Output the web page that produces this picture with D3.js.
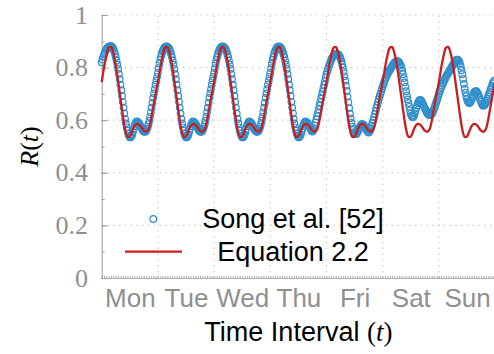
<!DOCTYPE html>
<html>
<head>
<meta charset="utf-8">
<script src="https://cdn.jsdelivr.net/npm/d3@7"></script>
<style>
  body { margin: 0; background: #fff; }
  svg { display: block; }
</style>
</head>
<body>
<div id="chart"></div>
<script>
// day labels, centred on each day
const days = ["Mon", "Tue", "Wed", "Thu", "Fri", "Sat", "Sun"];
const yTicks = [0, 0.2, 0.4, 0.6, 0.8, 1];

// Song et al. [52], one sample every 20 minutes (3 per hour, one row per day)
const songMon = [
  0.82, 0.831, 0.841, 0.85, 0.857, 0.864, 0.87, 0.874, 0.877, 0.88, 0.881, 0.882,
  0.882, 0.88, 0.876, 0.87, 0.862, 0.852, 0.84, 0.826, 0.811, 0.795, 0.776, 0.756,
  0.735, 0.714, 0.692, 0.67, 0.648, 0.626, 0.605, 0.588, 0.573, 0.56, 0.549, 0.541,
  0.535, 0.535, 0.539, 0.545, 0.555, 0.567, 0.578, 0.586, 0.592, 0.595, 0.594, 0.591,
  0.588, 0.582, 0.576, 0.57, 0.565, 0.56, 0.557, 0.556, 0.557, 0.56, 0.567, 0.575,
  0.585, 0.598, 0.613, 0.63, 0.648, 0.666, 0.685, 0.702, 0.718, 0.735, 0.75, 0.765];
const songTue = [
  0.78, 0.798, 0.815, 0.83, 0.842, 0.853, 0.862, 0.868, 0.874, 0.878, 0.88, 0.881,
  0.88, 0.877, 0.873, 0.868, 0.86, 0.851, 0.84, 0.826, 0.811, 0.795, 0.776, 0.756,
  0.735, 0.714, 0.692, 0.67, 0.648, 0.626, 0.605, 0.588, 0.573, 0.56, 0.549, 0.541,
  0.535, 0.535, 0.539, 0.545, 0.555, 0.567, 0.578, 0.586, 0.592, 0.595, 0.594, 0.591,
  0.588, 0.582, 0.576, 0.57, 0.565, 0.56, 0.557, 0.556, 0.557, 0.56, 0.567, 0.575,
  0.585, 0.598, 0.613, 0.63, 0.648, 0.666, 0.685, 0.702, 0.718, 0.735, 0.75, 0.765];
const songWed = [
  0.78, 0.798, 0.815, 0.83, 0.842, 0.853, 0.862, 0.868, 0.874, 0.878, 0.88, 0.881,
  0.88, 0.877, 0.873, 0.868, 0.86, 0.851, 0.84, 0.826, 0.811, 0.795, 0.776, 0.756,
  0.735, 0.714, 0.692, 0.67, 0.648, 0.626, 0.605, 0.588, 0.573, 0.56, 0.549, 0.541,
  0.535, 0.535, 0.539, 0.545, 0.555, 0.567, 0.578, 0.586, 0.592, 0.595, 0.594, 0.591,
  0.588, 0.582, 0.576, 0.57, 0.565, 0.56, 0.557, 0.556, 0.557, 0.56, 0.567, 0.575,
  0.585, 0.598, 0.613, 0.63, 0.648, 0.666, 0.685, 0.702, 0.718, 0.735, 0.75, 0.765];
const songThu = [
  0.78, 0.798, 0.815, 0.83, 0.842, 0.853, 0.862, 0.868, 0.874, 0.878, 0.88, 0.881,
  0.88, 0.877, 0.873, 0.868, 0.86, 0.851, 0.84, 0.826, 0.811, 0.795, 0.776, 0.756,
  0.735, 0.714, 0.692, 0.67, 0.648, 0.626, 0.605, 0.588, 0.573, 0.56, 0.549, 0.541,
  0.535, 0.535, 0.539, 0.545, 0.555, 0.567, 0.578, 0.586, 0.592, 0.595, 0.594, 0.591,
  0.588, 0.582, 0.576, 0.57, 0.565, 0.56, 0.557, 0.562, 0.57, 0.58, 0.591, 0.603,
  0.615, 0.628, 0.641, 0.655, 0.668, 0.682, 0.695, 0.708, 0.722, 0.735, 0.748, 0.762];
const songFri = [
  0.775, 0.786, 0.796, 0.805, 0.814, 0.822, 0.83, 0.836, 0.841, 0.845, 0.848, 0.85,
  0.852, 0.852, 0.851, 0.85, 0.846, 0.841, 0.835, 0.825, 0.813, 0.80, 0.784, 0.767,
  0.75, 0.731, 0.711, 0.69, 0.668, 0.646, 0.625, 0.607, 0.59, 0.575, 0.563, 0.555,
  0.55, 0.548, 0.548, 0.55, 0.556, 0.563, 0.57, 0.576, 0.581, 0.585, 0.585, 0.583,
  0.58, 0.575, 0.57, 0.565, 0.56, 0.556, 0.553, 0.556, 0.562, 0.57, 0.58, 0.59,
  0.60, 0.612, 0.623, 0.635, 0.647, 0.658, 0.67, 0.68, 0.69, 0.70, 0.709, 0.719];
const songSat = [
  0.728, 0.737, 0.746, 0.755, 0.762, 0.769, 0.775, 0.78, 0.785, 0.79, 0.795, 0.80,
  0.805, 0.81, 0.814, 0.818, 0.821, 0.823, 0.825, 0.825, 0.823, 0.82, 0.815, 0.808,
  0.80, 0.788, 0.775, 0.76, 0.744, 0.727, 0.71, 0.694, 0.679, 0.665, 0.651, 0.637,
  0.625, 0.617, 0.612, 0.612, 0.617, 0.626, 0.635, 0.646, 0.656, 0.665, 0.671, 0.675,
  0.677, 0.675, 0.671, 0.665, 0.658, 0.651, 0.645, 0.639, 0.633, 0.628, 0.624, 0.621,
  0.62, 0.62, 0.622, 0.625, 0.63, 0.637, 0.645, 0.654, 0.663, 0.672, 0.681, 0.69];
const songSun = [
  0.70, 0.709, 0.717, 0.725, 0.732, 0.739, 0.745, 0.752, 0.758, 0.765, 0.77, 0.775,
  0.78, 0.785, 0.79, 0.795, 0.80, 0.805, 0.81, 0.815, 0.82, 0.825, 0.828, 0.83,
  0.83, 0.827, 0.822, 0.815, 0.804, 0.79, 0.775, 0.757, 0.738, 0.72, 0.705, 0.691,
  0.68, 0.672, 0.667, 0.665, 0.667, 0.672, 0.68, 0.689, 0.697, 0.705, 0.709, 0.71,
  0.71, 0.706, 0.701, 0.695, 0.686, 0.678, 0.67, 0.663, 0.658, 0.655, 0.657, 0.66,
  0.665, 0.672, 0.681, 0.69, 0.698, 0.706, 0.715, 0.723, 0.731, 0.74, 0.745, 0.75];

// Equation 2.2, hourly samples (last value closes the week)
const eqMon = [0.745, 0.80, 0.845, 0.875, 0.878, 0.855, 0.81, 0.75, 0.685, 0.62, 0.565, 0.537, 0.538, 0.558, 0.578, 0.586, 0.583, 0.572, 0.56, 0.556, 0.565, 0.60, 0.65, 0.70];
const eqTue = [0.745, 0.80, 0.845, 0.875, 0.878, 0.855, 0.81, 0.75, 0.685, 0.62, 0.565, 0.537, 0.538, 0.558, 0.578, 0.586, 0.583, 0.572, 0.56, 0.556, 0.565, 0.60, 0.65, 0.70];
const eqWed = [0.745, 0.80, 0.845, 0.875, 0.878, 0.855, 0.81, 0.75, 0.685, 0.62, 0.565, 0.537, 0.538, 0.558, 0.578, 0.586, 0.583, 0.572, 0.56, 0.556, 0.565, 0.60, 0.65, 0.70];
const eqThu = [0.745, 0.80, 0.845, 0.875, 0.878, 0.855, 0.81, 0.75, 0.685, 0.62, 0.565, 0.537, 0.538, 0.558, 0.578, 0.586, 0.583, 0.572, 0.56, 0.556, 0.565, 0.60, 0.65, 0.70];
const eqFri = [0.745, 0.80, 0.845, 0.875, 0.878, 0.855, 0.81, 0.75, 0.685, 0.62, 0.565, 0.537, 0.538, 0.558, 0.578, 0.586, 0.583, 0.572, 0.56, 0.556, 0.565, 0.60, 0.65, 0.70];
const eqSat = [0.745, 0.80, 0.845, 0.875, 0.878, 0.855, 0.81, 0.75, 0.685, 0.62, 0.565, 0.537, 0.538, 0.558, 0.578, 0.586, 0.583, 0.572, 0.56, 0.556, 0.565, 0.60, 0.65, 0.70];
const eqSun = [0.745, 0.80, 0.845, 0.875, 0.878, 0.855, 0.81, 0.75, 0.685, 0.62, 0.565, 0.537, 0.538, 0.558, 0.578, 0.586, 0.583, 0.572, 0.56, 0.556, 0.565, 0.60, 0.65, 0.70, 0.745];

const song = [].concat(songMon, songTue, songWed, songThu, songFri, songSat, songSun);
const eq = [].concat(eqMon, eqTue, eqWed, eqThu, eqFri, eqSat, eqSun);

const width = 494, height = 354;
const plotLeft = 101.7, plotRight = 495.1, plotTop = 15, plotBottom = 278;
const gridColor = "#c4c4c4";
const axisColor = "#9c9c9c";
const labelGray = "#8f8f8f";
const blue = "#2f8fcd";
const red = "#cc1d1d";

const svg = d3.select("#chart").append("svg")
  .attr("width", width)
  .attr("height", height);

// x in hours over one week
const x = d3.scaleLinear().domain([0, 168]).range([plotLeft, plotRight]);
const y = d3.scaleLinear().domain([0, 1]).range([plotBottom, plotTop]);

// dotted grid
const grid = svg.append("g")
  .attr("stroke", gridColor)
  .attr("stroke-width", 1.2)
  .attr("stroke-dasharray", "1.2,4.6");

grid.selectAll("line.h")
  .data(yTicks.filter(d => d > 0))
  .enter().append("line")
  .attr("class", "h")
  .attr("x1", plotLeft)
  .attr("x2", plotRight)
  .attr("y1", d => y(d))
  .attr("y2", d => y(d));

grid.selectAll("line.v")
  .data(d3.range(1, 8))
  .enter().append("line")
  .attr("class", "v")
  .attr("x1", d => x(d * 24))
  .attr("x2", d => x(d * 24))
  .attr("y1", plotBottom)
  .attr("y2", plotTop);

// left axis: ticks every 0.1, pointing inside
const yAxisMinor = d3.axisLeft(y).tickValues(d3.range(0, 1.01, 0.1)).tickSize(-3).tickFormat("");
const yAxisMajor = d3.axisLeft(y).tickValues(yTicks).tickSize(-6).tickFormat("");

svg.append("g")
  .attr("transform", "translate(" + plotLeft + ",0)")
  .call(yAxisMinor)
  .call(g => g.selectAll("line, path").attr("stroke", axisColor));
svg.append("g")
  .attr("transform", "translate(" + plotLeft + ",0)")
  .call(yAxisMajor)
  .call(g => g.select(".domain").remove())
  .call(g => g.selectAll("line").attr("stroke", axisColor));

// y tick labels in a serif face
svg.append("g")
  .selectAll("text")
  .data(yTicks)
  .enter().append("text")
  .attr("x", 88)
  .attr("y", d => y(d) + 8.5)
  .attr("text-anchor", "end")
  .style("font-family", "'Liberation Serif', serif")
  .style("font-size", "26px")
  .attr("fill", labelGray)
  .text(d => d === 0 || d === 1 ? String(d) : d.toFixed(1));

// bottom axis: hourly minor ticks
const xAxisMinor = d3.axisBottom(x).tickValues(d3.range(0, 169)).tickSize(-2).tickFormat("");
svg.append("g")
  .attr("transform", "translate(0," + plotBottom + ")")
  .call(xAxisMinor)
  .call(g => g.selectAll("line, path").attr("stroke", axisColor).attr("stroke-width", 0.8));

const xAxisDays = d3.axisBottom(x)
  .tickValues(days.map((d, i) => i * 24 + 12))
  .tickSize(0)
  .tickPadding(11)
  .tickFormat((d, i) => days[i]);
svg.append("g")
  .attr("transform", "translate(0," + plotBottom + ")")
  .call(xAxisDays)
  .call(g => g.select(".domain").remove())
  .call(g => g.selectAll("text")
    .style("font-family", "'Liberation Sans', Arial, sans-serif")
    .style("font-size", "26px")
    .attr("fill", labelGray));

// data: Song et al. circles (index / 3 = hour)
svg.append("g")
  .selectAll("circle")
  .data(song)
  .enter().append("circle")
  .attr("cx", (d, i) => x(i / 3))
  .attr("cy", d => y(d))
  .attr("r", 3.3)
  .attr("fill", "none")
  .attr("stroke", blue)
  .attr("stroke-width", 1.2);

// Equation 2.2 line
const line = d3.line()
  .x((d, i) => x(i))
  .y(d => y(d))
  .curve(d3.curveCatmullRom);

svg.append("path")
  .datum(eq)
  .attr("d", line)
  .attr("fill", "none")
  .attr("stroke", red)
  .attr("stroke-width", 2.3);

// legend
const legend = svg.append("g");
legend.append("circle")
  .attr("cx", 153.3)
  .attr("cy", 219)
  .attr("r", 3.3)
  .attr("fill", "none")
  .attr("stroke", blue)
  .attr("stroke-width", 1.2);
legend.append("line")
  .attr("x1", 125)
  .attr("x2", 182)
  .attr("y1", 251.7)
  .attr("y2", 251.7)
  .attr("stroke", red)
  .attr("stroke-width", 2.3);
legend.append("text")
  .attr("x", 293)
  .attr("y", 228)
  .attr("text-anchor", "middle")
  .style("font-family", "'Liberation Sans', Arial, sans-serif")
  .style("font-size", "27px")
  .attr("fill", "#000")
  .text("Song et al. [52]");
legend.append("text")
  .attr("x", 293)
  .attr("y", 261)
  .attr("text-anchor", "middle")
  .style("font-family", "'Liberation Sans', Arial, sans-serif")
  .style("font-size", "27px")
  .attr("fill", "#000")
  .text("Equation 2.2");

// axis titles
const xTitle = svg.append("text")
  .attr("x", (plotLeft + plotRight) / 2)
  .attr("y", 341)
  .attr("text-anchor", "middle")
  .style("font-family", "'Liberation Sans', Arial, sans-serif")
  .style("font-size", "27px")
  .attr("fill", "#000");
xTitle.append("tspan").text("Time Interval ");
xTitle.append("tspan").style("font-family", "'Liberation Serif', serif").text("(");
xTitle.append("tspan").style("font-family", "'Liberation Serif', serif").style("font-style", "italic").text("t");
xTitle.append("tspan").style("font-family", "'Liberation Serif', serif").text(")");

const yTitle = svg.append("text")
  .attr("transform", "translate(38," + ((plotTop + plotBottom) / 2) + ") rotate(-90)")
  .attr("text-anchor", "middle")
  .style("font-family", "'Liberation Serif', serif")
  .style("font-size", "26px")
  .attr("fill", "#000");
yTitle.append("tspan").style("font-style", "italic").text("R");
yTitle.append("tspan").text("(");
yTitle.append("tspan").style("font-style", "italic").text("t");
yTitle.append("tspan").text(")");
</script>
</body>
</html>
